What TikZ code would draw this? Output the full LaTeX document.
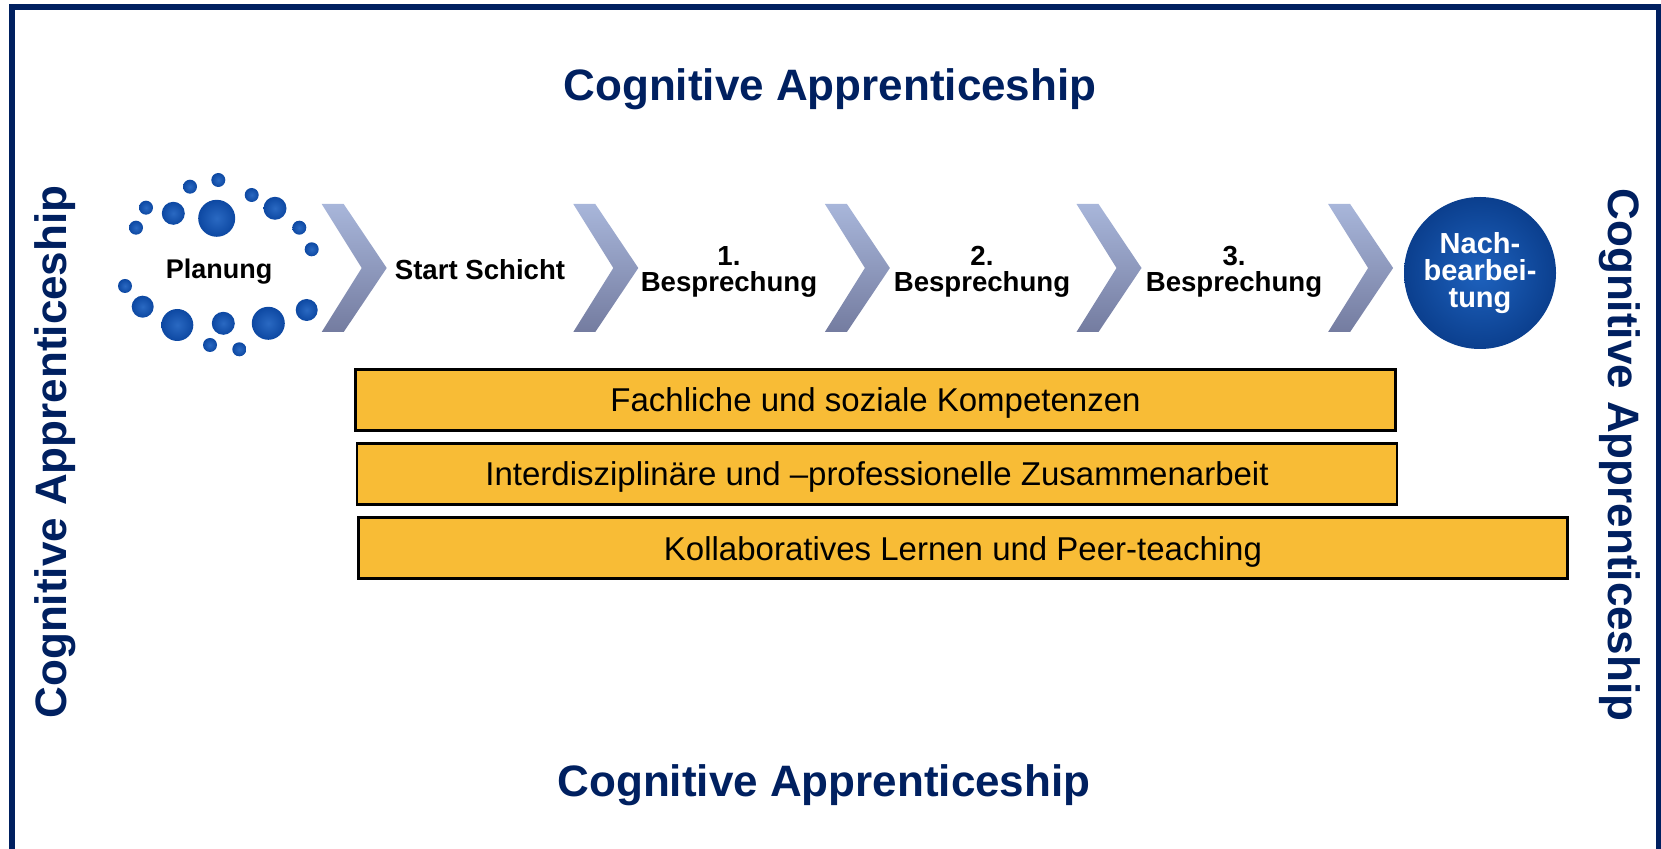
\documentclass[tikz,border=0pt]{standalone}
\usepackage{fontspec}
\setmainfont{Liberation Sans}

\definecolor{navy}{HTML}{002060}
\definecolor{dotin}{HTML}{2A69C2}
\definecolor{dotout}{HTML}{0D48A2}
\definecolor{nachin}{HTML}{1E62BE}
\definecolor{nachout}{HTML}{0B3F8E}
\definecolor{chevtop}{HTML}{A8B6DA}
\definecolor{chevbot}{HTML}{747CA0}
\definecolor{barfill}{HTML}{F8BC36}

\begin{document}
\begin{tikzpicture}[x=0.5pt,y=-0.5pt,
  heading/.style={font=\fontsize{22}{26}\selectfont\bfseries, text=navy, inner sep=0pt},
  steplabel/.style={font=\fontsize{13.8}{13}\selectfont\bfseries, align=center, inner sep=0pt},
  blob/.style={inner color=dotin, outer color=dotout},
  compbar/.style={draw=black, line width=1.4pt, fill=barfill, inner sep=0pt, text depth=0pt,
    minimum height=30.5pt, font=\fontsize{16.5}{20}\selectfont}]
  \useasboundingbox (0,0) rectangle (1661,849);

  % frame, open at the bottom
  \draw[navy, line width=2.6pt] (12,860) -- (12,7) -- (1659,7) -- (1659,860);

  \node[heading, anchor=base] (ttop) at (830,101) {Cognitive Apprenticeship};
  \node[heading, anchor=base] (tbot) at (824,797) {Cognitive Apprenticeship};
  \node[heading, anchor=base, rotate=90] (tleft) at (66,452) {Cognitive Apprenticeship};
  \node[heading, anchor=base, rotate=-90] (tright) at (1608,455) {Cognitive Apprenticeship};

  % ring of dots round Planung
  \foreach \px/\py/\r in {216.7/218.3/18.5, 218.3/180/7, 190/186.7/7, 251.7/195/7,
      275/208.3/11.5, 173.3/213.3/11.5, 146/207.7/7, 136/227.7/7, 299.3/227.7/7,
      311.7/249.3/7, 125/286/7, 142.7/306.7/11, 177.3/325/16, 223.3/323.3/11.5,
      268.3/323.3/16.5, 306.7/310/11, 210/345/7, 239.3/349.3/7}
    \shade[blob] (\px,\py) circle [radius=\r*0.5pt];

  % chevrons
  \foreach \k [evaluate=\k as \xo using 321.7+251.6*\k] in {0,...,4}
    \shade[top color=chevtop, bottom color=chevbot]
      (\xo,204) -- ++(22,0) -- ++(43,64) -- ++(-43,64) -- ++(-22,0) -- ++(40,-64) -- cycle;

  \node[steplabel, font=\fontsize{13.5}{14}\selectfont\bfseries, anchor=base] (plan) at (219,279) {Planung};
  \node[steplabel, anchor=base] (start) at (480,280) {Start Schicht};
  \node[steplabel] (bes1) at (729,272) {1.\\Besprechung};
  \node[steplabel] (bes2) at (982,272) {2.\\Besprechung};
  \node[steplabel] (bes3) at (1234,272) {3.\\Besprechung};

  \node[circle, minimum size=76pt, inner color=nachin, outer color=nachout, text=white,
    steplabel, font=\fontsize{14.5}{13.5}\selectfont\bfseries] (nach) at (1480,273) {Nach-\\bearbei-\\tung};

  \node[compbar, minimum width=520pt] (fach) at (875.5,400) {Fachliche und soziale Kompetenzen};
  \node[compbar, minimum width=520pt] (inter) at (877,474) {Interdisziplinäre und –professionelle Zusammenarbeit};
  \node[compbar, minimum width=604.5pt] (koll) at (963,548.3) {Kollaboratives Lernen und Peer-teaching};
\end{tikzpicture}
\end{document}
